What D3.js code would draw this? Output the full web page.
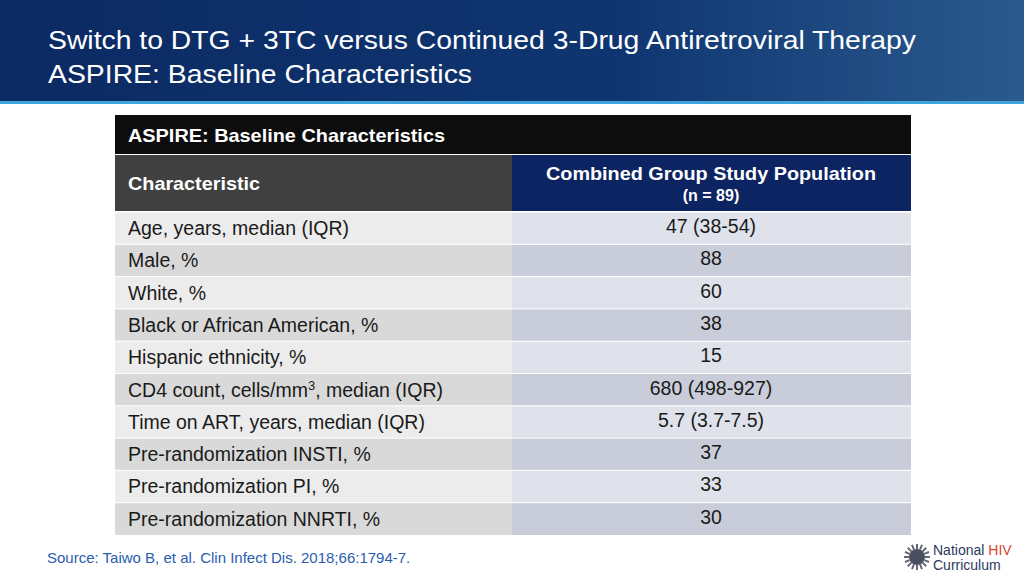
<!DOCTYPE html>
<html><head><meta charset="utf-8">
<script src="https://cdn.jsdelivr.net/npm/d3@7"></script>
<style>body{margin:0;background:#fff;font-family:"Liberation Sans",Arial,sans-serif}</style>
</head><body><div id="chart"></div>
<script>
var titleLines = ["Switch to DTG + 3TC versus Continued 3-Drug Antiretroviral Therapy", "ASPIRE: Baseline Characteristics"];
var characteristics = ["Age, years, median (IQR)", "Male, %", "White, %", "Black or African American, %", "Hispanic ethnicity, %",
    "CD4 count, cells/mm|3|, median (IQR)", "Time on ART, years, median (IQR)", "Pre-randomization INSTI, %", "Pre-randomization PI, %", "Pre-randomization NNRTI, %"];
var combinedValues = ["47 (38-54)", "88", "60", "38", "15", "680 (498-927)", "5.7 (3.7-7.5)", "37", "33", "30"];

var svg = d3.select("#chart").append("svg").attr("width", 1024).attr("height", 576);
var defs = svg.append("defs");
var g = defs.append("linearGradient").attr("id", "hdr").attr("x1", 0).attr("x2", 1).attr("y1", 0).attr("y2", 0);
g.append("stop").attr("offset", "0%").attr("stop-color", "#0c2a63");
g.append("stop").attr("offset", "60%").attr("stop-color", "#0f3570");
g.append("stop").attr("offset", "100%").attr("stop-color", "#2a5a8e");

svg.append("rect").attr("width", 1024).attr("height", 101).attr("fill", "url(#hdr)");
svg.append("rect").attr("y", 101).attr("width", 1024).attr("height", 3).attr("fill", "#3fa3dc");
svg.selectAll(".title").data(titleLines).enter().append("text")
    .attr("x", 48).attr("y", (d, i) => 49 + i * 34)
    .attr("fill", "#fff").attr("font-size", 26)
    .attr("textLength", (d, i) => i === 0 ? 868 : 424).attr("lengthAdjust", "spacingAndGlyphs")
    .text(d => d);

// table geometry
var left = 115, mid = 512, right = 911;
var y = d3.scaleBand().domain(d3.range(characteristics.length)).range([212, 535]);

svg.append("rect").attr("x", left).attr("y", 115).attr("width", right - left).attr("height", 39).attr("fill", "#0d0d0d");
svg.append("text").attr("x", 128).attr("y", 142).attr("fill", "#fff").attr("font-size", 19).attr("font-weight", "bold")
    .attr("textLength", 317).attr("lengthAdjust", "spacingAndGlyphs")
    .text("ASPIRE: Baseline Characteristics");
svg.append("rect").attr("x", left).attr("y", 155).attr("width", mid - left).attr("height", 56).attr("fill", "#404040");
svg.append("rect").attr("x", mid).attr("y", 155).attr("width", right - mid).attr("height", 56).attr("fill", "#0c2461");
svg.append("text").attr("x", 128).attr("y", 190).attr("fill", "#fff").attr("font-size", 19).attr("font-weight", "bold")
    .attr("textLength", 132).attr("lengthAdjust", "spacingAndGlyphs").text("Characteristic");
svg.append("text").attr("x", 711).attr("y", 180).attr("text-anchor", "middle").attr("fill", "#fff").attr("font-size", 19).attr("font-weight", "bold")
    .attr("textLength", 330).attr("lengthAdjust", "spacingAndGlyphs").text("Combined Group Study Population");
svg.append("text").attr("x", 711).attr("y", 201).attr("text-anchor", "middle").attr("fill", "#fff").attr("font-size", 16).attr("font-weight", "bold").text("(n = 89)");

var rows = svg.selectAll(".row").data(characteristics).enter().append("g")
    .attr("transform", (d, i) => `translate(0,${y(i)})`);
rows.append("rect").attr("x", left).attr("width", mid - left).attr("height", y.bandwidth())
    .attr("fill", (d, i) => i % 2 ? "#d9d9d9" : "#ececec");
rows.append("rect").attr("x", mid).attr("width", right - mid).attr("height", y.bandwidth())
    .attr("fill", (d, i) => i % 2 ? "#c9cdd9" : "#dfe2ea");
rows.append("line").attr("x1", left).attr("x2", right).attr("y1", 0).attr("y2", 0).attr("stroke", "#fff").attr("stroke-width", 1);
rows.each(function (d) {
    var t = d3.select(this).append("text").attr("x", 128).attr("y", 23).attr("font-size", 19.5).attr("fill", "#1a1a1a");
    d.split("|").forEach((part, k) => {
        var s = t.append("tspan").text(part);
        if (k === 1) s.attr("font-size", 13).attr("dy", -7);
        if (k === 2) s.attr("dy", 7);
    });
});
rows.append("text").data(combinedValues).attr("x", 711).attr("y", 21).attr("text-anchor", "middle")
    .attr("font-size", 19.5).attr("fill", "#1a1a1a").text(d => d);

svg.append("text").attr("x", 47).attr("y", 563).attr("font-size", 15).attr("fill", "#2a5db0")
    .text("Source: Taiwo B, et al. Clin Infect Dis. 2018;66:1794-7.");

// logo
var logo = svg.append("g").attr("transform", "translate(917,557)");
logo.selectAll("line").data(d3.range(16)).enter().append("line")
    .attr("x1", d => 8 * Math.cos(d * Math.PI / 8)).attr("y1", d => 8 * Math.sin(d * Math.PI / 8))
    .attr("x2", d => 13 * Math.cos(d * Math.PI / 8)).attr("y2", d => 13 * Math.sin(d * Math.PI / 8))
    .attr("stroke", "#667").attr("stroke-width", 2);
logo.append("circle").attr("r", 8).attr("fill", "#4a4f5e");
var lt = svg.append("text").attr("x", 933).attr("y", 555).attr("font-size", 14).attr("fill", "#2d3a5c");
lt.append("tspan").text("National ");
lt.append("tspan").attr("fill", "#d9442b").text("HIV");
svg.append("text").attr("x", 933).attr("y", 570).attr("font-size", 14).attr("fill", "#2d3a5c").text("Curriculum");
</script></body></html>
